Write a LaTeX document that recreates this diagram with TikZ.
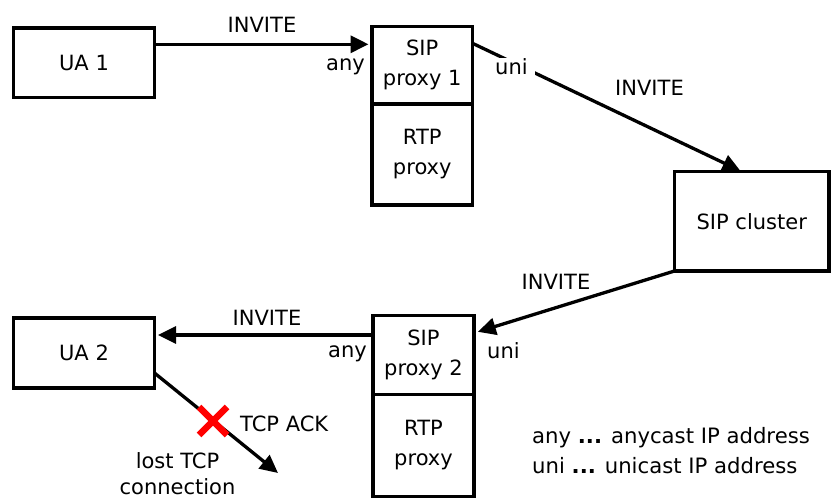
\documentclass[tikz,border=0pt]{standalone}
\usepackage{fontspec}
\setmainfont{DejaVu Sans}
\usetikzlibrary{arrows.meta}

\tikzset{
  box/.style={draw, line width=3.5pt, outer sep=0pt, inner sep=0pt,
              align=center, font=\fontsize{21}{30}\selectfont},
  msg/.style={line width=3.3pt, -{Triangle[length=18pt,width=17pt]}},
  lbl/.style={inner sep=0pt, font=\fontsize{21}{30}\selectfont},
  lostmark/.style={red, line width=6.5pt},
}

\begin{document}
\begin{tikzpicture}[x=1pt, y=-1pt]
  \useasboundingbox (0,0) rectangle (832,502);

  % endpoints
  \node[box, minimum width=141pt, minimum height=69.5pt] (ua1) at (84,62.75) {UA 1};
  \node[box, minimum width=141pt, minimum height=70pt]   (ua2) at (84,353)   {UA 2};

  % proxy 1: SIP part on top of the RTP part
  \node[box, minimum width=100.5pt, minimum height=77.5pt] (sip1) at (422.25,65.25) {SIP\\proxy 1};
  \node[box, minimum width=100.5pt, minimum height=101pt]  (rtp1) at (422.25,154.5) {RTP\\proxy};

  % proxy 2
  \node[box, minimum width=101pt, minimum height=79pt]  (sip2) at (423.5,355)   {SIP\\proxy 2};
  \node[box, minimum width=101pt, minimum height=102pt] (rtp2) at (423.5,445.5) {RTP\\proxy};

  % cluster
  \node[box, minimum width=154.5pt, minimum height=99.5pt] (cluster) at (751.75,221.25) {SIP cluster};

  % INVITE path
  \draw[msg, shorten >=3.5pt] ([yshift=-16.3pt]ua1.north east) -- ([yshift=-16.3pt]ua1.north east -| sip1.west);
  \draw[msg, shorten >=1.5pt] ([yshift=-16.8pt]sip1.north east) -- ([xshift=-10pt]cluster.north);
  \draw[msg, shorten >=4pt] (cluster.south west) -- ([yshift=-17.5pt]sip2.north east);
  \draw[msg, shorten >=3.5pt] ([yshift=-19.5pt]sip2.north west) -- ([yshift=-19.5pt]sip2.north west -| ua2.east);

  % lost TCP ACK
  \coordinate (lost) at (278,473);
  \draw[msg] ([yshift=-55pt]ua2.north east) -- (lost);
  \draw[lostmark] (199,407) -- (227,435) (227,407) -- (199,435);

  % message labels
  \node[lbl, anchor=base] (inv1) at (262,33) {INVITE};
  \node[lbl, anchor=base] (inv2) at (649.5,96) {INVITE};
  \node[lbl, anchor=base] (inv3) at (556,290) {INVITE};
  \node[lbl, anchor=base] (inv4) at (267,325.7) {INVITE};

  % address labels
  \node[lbl, anchor=base east] (any1) at (365,71) {any};
  \node[lbl, anchor=base west, fill=white, inner xsep=7pt, inner ysep=1pt] (uni1) at (488,75) {uni};
  \node[lbl, anchor=base east] (any2) at (367,357.7) {any};
  \node[lbl, anchor=base west] (uni2) at (487,358.3) {uni};

  \node[lbl, anchor=base west] (ack) at (240,431) {TCP ACK};
  \node[lbl, align=center, font=\fontsize{21}{26}\selectfont] (lostlbl) at (177.5,474) {lost TCP\\connection};

  % legend
  \node[lbl, align=left, anchor=north west, font=\fontsize{21.2}{30}\selectfont] (legend) at (532,427)
    {any \textbf{...} anycast IP address\\uni \textbf{...} unicast IP address};
\end{tikzpicture}
\end{document}
